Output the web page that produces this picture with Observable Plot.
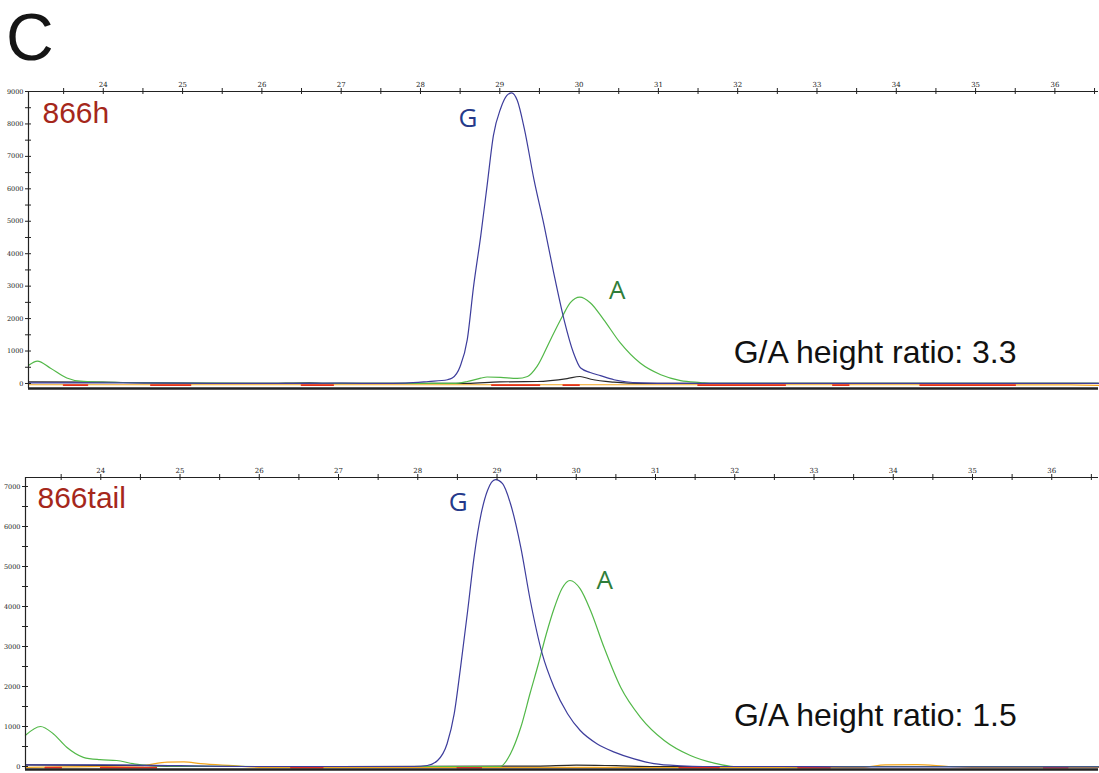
<!DOCTYPE html>
<html><head><meta charset="utf-8">
<script src="https://cdn.jsdelivr.net/npm/d3@7"></script>
<script src="https://cdn.jsdelivr.net/npm/@observablehq/plot@0.6"></script>
<style>
body{margin:0;background:#fff;width:1099px;height:773px;overflow:hidden;font-family:"Liberation Sans",Arial,sans-serif}
#title{height:62px;position:relative}
#title span{position:absolute;left:6px;top:4px;font-size:66px;line-height:66px;color:#151515}
svg{display:block}
</style></head><body>
<div id="title"><span>C</span></div>
<div id="chart"></div>
<script>
// ---- axis ticks ----
const xMajor = [24,25,26,27,28,29,30,31,32,33,34,35,36];
const xMinor = [23.5,24.5,25.5,26.5,27.5,28.5,29.5,30.5,31.5,32.5,33.5,34.5,35.5,36.5];
const p1YMajor = [0,1000,2000,3000,4000,5000,6000,7000,8000,9000];
const p1YMinor = [500,1500,2500,3500,4500,5500,6500,7500,8500];
const p2YMajor = [0,1000,2000,3000,4000,5000,6000,7000];
const p2YMinor = [500,1500,2500,3500,4500,5500,6500];

// ---- panel 1 : 866h ----
const p1Name = "866h";
const p1Ratio = "G/A height ratio: 3.3";
const p1BlueX = [23.06,24.0,25.0,26.0,27.0,27.5,27.81,28.1,28.34,28.40,28.50,28.59,28.67,28.76,28.84,28.92,29.01,29.09,29.15,29.22,29.31,29.43,29.56,29.68,29.81,29.93,30.02,30.14,30.27,30.44,30.77,31.2,32,33,34,35,36,36.55];
const p1BlueY = [20,20,10,0,10,0,10,60,115,165,525,1350,3000,4550,6100,7650,8470,8880,8960,8730,7850,6300,4860,3410,1970,940,475,340,240,115,20,0,0,0,0,0,0,0];
const p1GreenX = [23.06,23.17,23.33,23.54,23.71,23.96,24.22,25,26,27,28,28.42,28.59,28.76,28.84,29.01,29.22,29.35,29.47,29.64,29.79,29.89,30.01,30.14,30.31,30.52,30.77,31.03,31.28,31.53,31.70,32.5,33.5,34.5,35.5,36.55];
const p1GreenY = [560,690,480,170,70,40,30,15,5,0,0,0,60,165,200,190,155,215,525,1350,2070,2490,2660,2490,1970,1250,630,270,90,30,0,0,0,0,0,0];
const p1BlackX = [23.06,24,24.5,25,26,26.6,26.8,27,28,28.59,29.0,29.47,29.85,30.01,30.15,30.44,30.8,32,36.55];
const p1BlackY = [50,40,20,10,0,20,0,0,0,0,50,60,150,215,130,40,0,0,0];
const p1OrangeX = [23.06,25,27,29,31,33,35,36.2,36.55];
const p1OrangeY = [-40,-40,-40,-40,-40,-40,-40,-45,-60];
const p1RedX = [23.5,23.8,null,24.6,25.1,null,26.5,26.9,null,28.9,29.5,null,29.8,30.0,null,31.5,32.6,null,33.2,33.4,null,34.3,35.5];
const p1RedY = [-50,-50,null,-50,-50,null,-50,-50,null,-50,-50,null,-50,-50,null,-50,-50,null,-50,-50,null,-50,-50];

// ---- panel 2 : 866tail ----
const p2Name = "866tail";
const p2Ratio = "G/A height ratio: 1.5";
const p2BlueX = [23.05,24,25,26,27,27.53,27.95,28.12,28.25,28.37,28.46,28.54,28.63,28.71,28.80,28.88,28.98,29.07,29.17,29.30,29.42,29.57,29.72,29.89,30.05,30.26,30.48,30.73,30.98,31.32,31.6,32.5,33.5,34.5,35.5,36.59];
const p2BlueY = [40,40,20,0,0,0,0,25,150,570,1320,2480,3900,5230,6320,6900,7170,7070,6570,5480,4150,2820,1980,1320,900,570,360,190,70,15,0,0,-10,-10,-10,-10];
const p2GreenX = [23.05,23.24,23.40,23.57,23.78,23.99,24.20,24.41,24.58,25,26,27,28,29.04,29.17,29.30,29.42,29.52,29.62,29.72,29.82,29.92,30.05,30.18,30.35,30.56,30.81,31.11,31.44,31.74,31.99,33,34,35,36.59];
const p2GreenY = [780,1000,820,480,230,170,150,70,30,10,0,0,0,0,320,980,1850,2550,3300,3950,4450,4650,4440,3900,2980,1980,1230,650,275,85,0,0,0,0,0];
const p2BlackX = [23.05,24,24.6,25,27,29.5,30.0,30.5,31,36.59];
const p2BlackY = [40,30,20,0,0,10,35,20,0,0];
const p2OrangeX = [23.05,24.5,24.84,25.05,25.26,25.67,26,33.6,33.9,34.3,34.7,35,36.59];
const p2OrangeY = [-20,20,110,115,70,20,-20,-20,40,45,0,-20,-20];
const p2RedX = [23.3,23.5,null,24.0,24.7,null,26.4,26.8,null,28.5,28.8,null,31.3,31.8,null,32.8,33.2,null,35.9,36.2];
const p2RedY = [-30,-30,null,-30,-30,null,-30,-30,null,-30,-30,null,-30,-30,null,-30,-30,null,-30,-30];

const peakLabels = ["G","A"];

const colors = {blue:"#3d3d9c", green:"#52b848", black:"#2a2a2a", orange:"#f2a51c", red:"#e3311d"};

function rows(xs, ys, name){
  return xs.map((x,i)=>(x==null ? {x:NaN,y:NaN,s:name} : {x, y: ys[i], s: name}));
}

function panel(o){
  const [x0,x1] = o.xDomain, [y0,y1] = o.yDomain;
  const lineOpts = (c)=>({x:"x", y:"y", stroke:c, strokeWidth:1.2, curve:"monotone-x"});
  return Plot.plot({
    width: 1099, height: o.height,
    marginTop: o.marginTop, marginBottom: o.marginBottom, marginLeft: o.marginLeft, marginRight: 1,
    x: {domain: o.xDomain}, y: {domain: o.yDomain},
    style: {background:"#fff", color:"#222", fontFamily:"'DejaVu Serif', serif"},
    marks: [
      Plot.line(o.orange, lineOpts(colors.orange)),
      Plot.line(o.red, {...lineOpts(colors.red), strokeWidth:1.8}),
      Plot.line(o.black, lineOpts(colors.black)),
      Plot.line(o.green, lineOpts(colors.green)),
      Plot.line(o.blue, lineOpts(colors.blue)),
      // frame lines
      Plot.ruleY([y1], {stroke:"#222", strokeWidth:1.2}),
      Plot.ruleX([x0], {stroke:"#222", strokeWidth:1.2}),
      Plot.ruleY([y0], {stroke:"#222", strokeWidth:2.6}),
      // crossing ticks
      Plot.ruleX([...xMajor, ...xMinor], {y1: y1, y2: y1, insetTop:-3, insetBottom:-3, stroke:"#222"}),
      Plot.ruleY([...o.yMajor, ...o.yMinor], {x1: x0, x2: x0, insetLeft:-3, insetRight:-3, stroke:"#222"}),
      Plot.axisX({anchor:"top", ticks: xMajor, tickSize:0, tickPadding:5, fontSize:7, fill:"#222", tickFormat:d=>String(d), label:null}),
      Plot.axisY({anchor:"left", ticks: o.yMajor, tickSize:0, tickPadding:5, fontSize:6.5, fill:"#222", tickFormat:d=>String(d), label:null}),
      // labels
      Plot.text([o.name], {frameAnchor:"top-left", dx:o.nameDx, dy:o.nameDy, lineAnchor:"top", textAnchor:"start", fontSize:30, fill:"#a5271b", fontFamily:"'Liberation Sans', Arial, sans-serif"}),
      Plot.text([peakLabels[0]], {x: ()=>o.gPos[0], y: ()=>o.gPos[1], lineAnchor:"top", textAnchor:"middle", fontSize:26, fill:"#24398a", fontFamily:"'Open Sans', sans-serif"}),
      Plot.text([peakLabels[1]], {x: ()=>o.aPos[0], y: ()=>o.aPos[1], lineAnchor:"top", textAnchor:"middle", fontSize:26, fill:"#2f7d3a", fontFamily:"'Open Sans', sans-serif"}),
      Plot.text([o.ratio], {x: ()=>o.rPos[0], y: ()=>o.rPos[1], lineAnchor:"top", textAnchor:"start", fontSize:32, fill:"#111", fontFamily:"'Liberation Sans', Arial, sans-serif"})
    ]
  });
}

const chart = document.getElementById("chart");
chart.appendChild(panel({
  height: 338, marginTop: 29, marginBottom: 12, marginLeft: 28,
  xDomain: [23.057, 36.55], yDomain: [-155, 9000],
  yMajor: p1YMajor, yMinor: p1YMinor,
  blue: rows(p1BlueX,p1BlueY,"b"), green: rows(p1GreenX,p1GreenY,"g"), black: rows(p1BlackX,p1BlackY,"k"),
  orange: rows(p1OrangeX,p1OrangeY,"o"), red: rows(p1RedX,p1RedY,"r"),
  name: p1Name, nameDx: 14, nameDy: 10, ratio: p1Ratio,
  gPos: [28.60, 8477], aPos: [30.48, 3175], rPos: [31.95, 1325]
}));
chart.appendChild(panel({
  height: 373, marginTop: 77, marginBottom: 4, marginLeft: 25,
  xDomain: [23.05, 36.59], yDomain: [-75, 7225],
  yMajor: p2YMajor, yMinor: p2YMinor,
  blue: rows(p2BlueX,p2BlueY,"b"), green: rows(p2GreenX,p2GreenY,"g"), black: rows(p2BlackX,p2BlackY,"k"),
  orange: rows(p2OrangeX,p2OrangeY,"o"), red: rows(p2RedX,p2RedY,"r"),
  name: p2Name, nameDx: 12, nameDy: 9, ratio: p2Ratio,
  gPos: [28.51, 6858], aPos: [30.36, 4900], rPos: [31.99, 1575]
}));
</script>
</body></html>
